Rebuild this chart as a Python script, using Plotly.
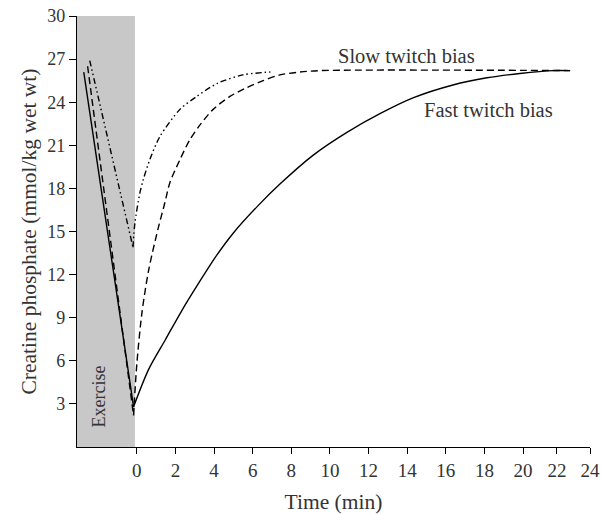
import plotly.graph_objects as go

# ---- data ----
# Exercise phase (linear drop), time in min, PCr in mmol/kg wet wt
fast_drop_t = [-2.75, -0.17]
fast_drop_pcr = [26.1, 2.8]
slow_drop_t = [-2.55, -0.17]
slow_drop_pcr = [26.5, 2.2]
mixed_drop_t = [-2.44, -0.2]
mixed_drop_pcr = [26.9, 13.9]

# Recovery phase
fast_rec_t = [-0.17, 0.61, 1.47, 2.33, 3.2, 4.06, 5.0, 6.28, 7.41, 9.12, 10.88,
              12.59, 14.3, 16.37, 18.13, 19.84, 21.55, 22.44]
fast_rec_pcr = [2.8, 5.4, 7.45, 9.5, 11.4, 13.2, 14.9, 16.8, 18.3, 20.3, 21.9,
                23.2, 24.3, 25.2, 25.7, 26.0, 26.2, 26.2]

slow_rec_t = [-0.17, 0.0, 0.26, 0.61, 1.1, 1.45, 1.71, 2.23, 2.75, 3.26, 3.95,
              4.82, 5.68, 6.54, 7.41, 8.45, 9.5, 22.44]
slow_rec_pcr = [2.2, 5.8, 9.3, 12.3, 15.2, 17.0, 18.4, 20.0, 21.4, 22.4, 23.5,
                24.4, 25.0, 25.5, 25.9, 26.1, 26.2, 26.2]

mixed_rec_t = [-0.2, -0.1, 0.16, 0.33, 0.67, 1.19, 2.23, 3.1, 4.15, 5.49, 6.9, 7.0]
mixed_rec_pcr = [13.9, 15.6, 17.7, 18.6, 20.0, 21.6, 23.5, 24.4, 25.3, 25.9, 26.1, 26.1]

# Axes
y_ticks = [3, 6, 9, 12, 15, 18, 21, 24, 27, 30]
x_tick_labels = ["0", "2", "4", "6", "8", "10", "12", "14", "16", "18", "20", "22", "24"]
x_tick_pos = [0, 2, 4, 6, 8, 10, 12, 14, 16, 18, 20, 21.76, 23.47]  # as placed in the picture

exercise_span = [-3.1, -0.1]

FONT = "Liberation Serif"
TXT = "#333333"

fig = go.Figure()

DASH = "7px,4px"
DASHDOT = "6px,3px,1.5px,3px,1.5px,3px"

def add(t, p, dash, shape):
    fig.add_trace(go.Scatter(
        x=t, y=p, mode="lines",
        line=dict(color="black", width=1.4, dash=dash, shape=shape,
                  smoothing=0.8 if shape == "spline" else None),
        showlegend=False, hoverinfo="skip"))

add(fast_drop_t, fast_drop_pcr, "solid", "linear")
add(slow_drop_t, slow_drop_pcr, DASH, "linear")
add(mixed_drop_t, mixed_drop_pcr, DASHDOT, "linear")
add(fast_rec_t, fast_rec_pcr, "solid", "spline")
add(slow_rec_t, slow_rec_pcr, DASH, "spline")
add(mixed_rec_t, mixed_rec_pcr, DASHDOT, "spline")

fig.add_shape(type="rect", xref="x", yref="y",
              x0=exercise_span[0], x1=exercise_span[1], y0=0, y1=30,
              fillcolor="#c8c8c8", line=dict(width=0), layer="below")

fig.add_annotation(x=-1.97, y=3.5, text="Exercise", textangle=-90, showarrow=False,
                   font=dict(family=FONT, size=18, color=TXT))
fig.add_annotation(x=13.99, y=27.2, text="Slow twitch bias", showarrow=False,
                   font=dict(family=FONT, size=20.5, color=TXT))
fig.add_annotation(x=18.19, y=23.46, text="Fast twitch bias", showarrow=False,
                   font=dict(family=FONT, size=20.5, color=TXT))

fig.update_layout(
    width=602, height=514,
    margin=dict(l=77, r=12, t=16, b=67),
    paper_bgcolor="white", plot_bgcolor="white",
    font=dict(family=FONT, color=TXT),
)
fig.update_xaxes(
    range=[-3.1, 23.47], showgrid=False, zeroline=False, automargin=False,
    showline=True, linecolor="black", linewidth=1.3,
    ticks="outside", ticklen=6, tickwidth=1.3, tickcolor="black",
    tickvals=x_tick_pos, ticktext=x_tick_labels, ticklabeloverflow="allow",
    tickfont=dict(family=FONT, size=19, color=TXT),
    title=dict(text="Time (min)", font=dict(family=FONT, size=21.5, color=TXT), standoff=19),
)
fig.update_yaxes(
    range=[0, 30], showgrid=False, zeroline=False, automargin=False,
    showline=True, linecolor="black", linewidth=1.3,
    ticks="outside", ticklen=7, tickwidth=1.3, tickcolor="black",
    tickvals=y_ticks, ticklabeloverflow="allow",
    tickfont=dict(family=FONT, size=18, color=TXT),
    title=dict(text="Creatine phosphate (mmol/kg wet wt)",
               font=dict(family=FONT, size=21.5, color=TXT), standoff=4),
)

fig.write_html(
    "out.html",
    config={"displayModeBar": False},
    post_script="document.body.style.margin='0';document.body.style.overflow='hidden';",
)
